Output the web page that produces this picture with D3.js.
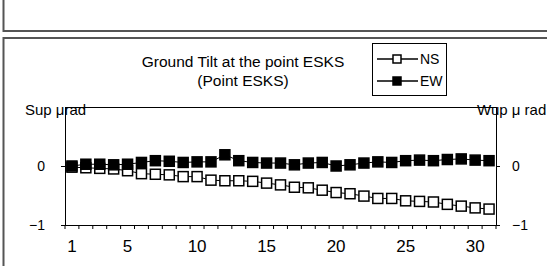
<!DOCTYPE html>
<html><head><meta charset="utf-8">
<script src="https://cdn.jsdelivr.net/npm/d3@7"></script>
<style>body{margin:0;background:#fff}svg{display:block}</style>
</head><body>
<svg id="c" width="547" height="266"></svg>
<script>
const categories = d3.range(1, 32);
const nsValues = [-0.02,-0.03,-0.04,-0.05,-0.08,-0.13,-0.14,-0.15,-0.18,-0.18,-0.24,-0.25,-0.25,-0.26,-0.29,-0.32,-0.36,-0.37,-0.41,-0.45,-0.47,-0.51,-0.55,-0.55,-0.59,-0.60,-0.61,-0.65,-0.68,-0.71,-0.73];
const ewValues = [0.00,0.03,0.03,0.02,0.03,0.06,0.09,0.08,0.06,0.07,0.07,0.19,0.09,0.06,0.05,0.05,0.02,0.05,0.06,0.00,0.02,0.05,0.07,0.06,0.09,0.10,0.09,0.11,0.12,0.10,0.09];
const xTickLabels = [1,5,10,15,20,25,30];
const yTickValues = [0,-1];
const seriesNames = ["NS","EW"];

const svg = d3.select("#c");
const font = "'Liberation Sans', Arial, sans-serif";

// panels
svg.append("rect").attr("x",3.5).attr("y",-5).attr("width",560).attr("height",36)
  .attr("fill","none").attr("stroke","#555").attr("stroke-width",2);
svg.append("rect").attr("x",3.5).attr("y",38).attr("width",560).attr("height",250)
  .attr("fill","none").attr("stroke","#555").attr("stroke-width",2);

const L=65, R=496, T=107, B=225;
const x = d3.scaleBand().domain(categories).range([L,R]);
const y = d3.scaleLinear().domain([-1,1]).range([B,T]);

// plot area top line
svg.append("line").attr("x1",L).attr("x2",R).attr("y1",T+0.5).attr("y2",T+0.5).attr("stroke","#000");

// x axis
const xAxis = d3.axisBottom(x).tickSize(4).tickFormat(d => xTickLabels.includes(d) ? d : "");
const gx = svg.append("g").attr("transform",`translate(0,${B})`).call(xAxis);
gx.selectAll(".tick line").attr("transform",`translate(${x.bandwidth()/2},0)`);
gx.append("line").attr("x1",L).attr("x2",L).attr("y1",0).attr("y2",4).attr("stroke","#000");
gx.selectAll("text").attr("font-family","'Liberation Sans Narrow', 'Liberation Sans', sans-serif").attr("font-size",17).attr("dy","1.2em").attr("fill","#000");
gx.select(".domain").attr("d",`M${L},0.5H${R}`).attr("stroke","#000");

// y axes
const yl = d3.axisLeft(y).tickValues(yTickValues).tickSize(4).tickFormat(d => d===0?"0":"\u22121");
const gyl = svg.append("g").attr("transform",`translate(${L},0)`).call(yl);
gyl.select(".domain").attr("d",`M0.5,${T}V${B}`).attr("stroke","#000");
gyl.selectAll("text").attr("font-family",font).attr("font-size",14).attr("x",-20).attr("fill","#000");
const yr = d3.axisRight(y).tickValues(yTickValues).tickSize(4).tickFormat(d => d===0?"0":"\u22121");
const gyr = svg.append("g").attr("transform",`translate(${R},0)`).call(yr);
gyr.select(".domain").attr("d",`M0.5,${T}V${B}`).attr("stroke","#000");
gyr.selectAll("text").attr("font-family",font).attr("font-size",14).attr("x",16).attr("fill","#000");

// axis unit labels
svg.append("text").attr("x",25).attr("y",115).text("Sup \u03bcrad")
  .attr("font-family",font).attr("font-size",15).attr("fill","#000");
svg.append("text").attr("x",477).attr("y",115).text("Wup \u03bc rad")
  .attr("font-family",font).attr("font-size",15).attr("fill","#000");

// title
svg.append("text").attr("x",243).attr("y",67).attr("text-anchor","middle").text("Ground Tilt at the point ESKS")
  .attr("font-family",font).attr("font-size",15.5).attr("fill","#000");
svg.append("text").attr("x",243).attr("y",86).attr("text-anchor","middle").text("(Point ESKS)")
  .attr("font-family",font).attr("font-size",15.5).attr("fill","#000");

// series
const cx = d => x(d) + x.bandwidth()/2;
const series = [
  {name:seriesNames[0], values:nsValues, fill:"#fff"},
  {name:seriesNames[1], values:ewValues, fill:"#000"}
];
const line = d3.line().x((d,i)=>cx(categories[i])).y(d=>y(d));
series.forEach(s=>{
  svg.append("path").attr("d",line(s.values)).attr("fill","none").attr("stroke","#000").attr("stroke-width",1);
});
series.forEach(s=>{
  svg.append("g").selectAll("rect").data(s.values).join("rect")
    .attr("x",(d,i)=>cx(categories[i])-5).attr("y",d=>y(d)-5)
    .attr("width",10).attr("height",10)
    .attr("fill",s.fill).attr("stroke","#000").attr("stroke-width",1.5);
});

// legend
const lg = svg.append("g");
lg.append("rect").attr("x",372.5).attr("y",43.5).attr("width",74).attr("height",52)
  .attr("fill","#fff").attr("stroke","#000").attr("stroke-width",1);
series.forEach((s,i)=>{
  const yy = 59 + i*22;
  lg.append("line").attr("x1",377).attr("x2",418).attr("y1",yy).attr("y2",yy).attr("stroke","#000").attr("stroke-width",1.5);
  lg.append("rect").attr("x",393).attr("y",yy-4).attr("width",8).attr("height",8)
    .attr("fill",s.fill).attr("stroke","#000").attr("stroke-width",1.5);
  lg.append("text").attr("x",420).attr("y",yy+5).text(s.name)
    .attr("font-family",font).attr("font-size",14).attr("fill","#000");
});
</script>
</body></html>
